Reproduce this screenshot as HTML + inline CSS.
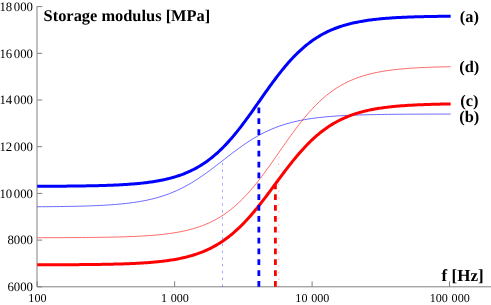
<!DOCTYPE html>
<html><head><meta charset="utf-8"><style>
html,body{margin:0;padding:0;background:#fff;}
svg{display:block;font-family:"Liberation Serif",serif;fill:#000;}
text{text-rendering:geometricPrecision;}
#txt{position:absolute;left:0;top:0;will-change:transform;opacity:0.999;}
</style></head><body>
<svg width="491" height="305" viewBox="0 0 491 305">
<rect width="491" height="305" fill="#fff"/>
<path d="M37 6.2 V286.80 H491" fill="none" stroke="#808080" stroke-width="1"/>
<path d="M37.20 286.80 h5" stroke="#808080" stroke-width="1"/>
<path d="M37.20 240.10 h5" stroke="#808080" stroke-width="1"/>
<path d="M37.20 193.40 h5" stroke="#808080" stroke-width="1"/>
<path d="M37.20 146.70 h5" stroke="#808080" stroke-width="1"/>
<path d="M37.20 100.00 h5" stroke="#808080" stroke-width="1"/>
<path d="M37.20 53.30 h5" stroke="#808080" stroke-width="1"/>
<path d="M37.20 6.60 h5" stroke="#808080" stroke-width="1"/>
<path d="M37.20 286.80 v-5.5" stroke="#808080" stroke-width="1"/>
<path d="M174.65 286.80 v-5.5" stroke="#808080" stroke-width="1"/>
<path d="M312.10 286.80 v-5.5" stroke="#808080" stroke-width="1"/>
<path d="M449.55 286.80 v-5.5" stroke="#808080" stroke-width="1"/>
<path d="M222.50 286.80 V160.48" stroke="#0000ff" stroke-width="0.7" stroke-dasharray="2.6 4.15" opacity="0.48"/>
<path d="M278.80 286.80 V151.95" stroke="#ff0000" stroke-width="0.8" stroke-dasharray="1.3 5.48" opacity="0.45"/>
<path d="M37.20 206.76 L38.58 206.75 L39.96 206.74 L41.33 206.73 L42.71 206.72 L44.09 206.71 L45.47 206.70 L46.85 206.69 L48.23 206.68 L49.60 206.66 L50.98 206.65 L52.36 206.64 L53.74 206.62 L55.12 206.61 L56.49 206.59 L57.87 206.57 L59.25 206.56 L60.63 206.54 L62.01 206.52 L63.39 206.50 L64.76 206.48 L66.14 206.46 L67.52 206.43 L68.90 206.41 L70.28 206.39 L71.65 206.36 L73.03 206.33 L74.41 206.30 L75.79 206.27 L77.17 206.24 L78.54 206.21 L79.92 206.17 L81.30 206.14 L82.68 206.10 L84.06 206.06 L85.44 206.02 L86.81 205.98 L88.19 205.93 L89.57 205.88 L90.95 205.83 L92.33 205.78 L93.70 205.73 L95.08 205.67 L96.46 205.61 L97.84 205.55 L99.22 205.49 L100.60 205.42 L101.97 205.35 L103.35 205.27 L104.73 205.20 L106.11 205.12 L107.49 205.03 L108.86 204.94 L110.24 204.85 L111.62 204.75 L113.00 204.65 L114.38 204.55 L115.76 204.44 L117.13 204.32 L118.51 204.20 L119.89 204.08 L121.27 203.95 L122.65 203.81 L124.02 203.67 L125.40 203.52 L126.78 203.36 L128.16 203.20 L129.54 203.03 L130.92 202.85 L132.29 202.67 L133.67 202.48 L135.05 202.28 L136.43 202.07 L137.81 201.85 L139.18 201.62 L140.56 201.39 L141.94 201.14 L143.32 200.88 L144.70 200.62 L146.08 200.34 L147.45 200.05 L148.83 199.75 L150.21 199.44 L151.59 199.11 L152.97 198.77 L154.34 198.42 L155.72 198.06 L157.10 197.68 L158.48 197.29 L159.86 196.88 L161.23 196.46 L162.61 196.02 L163.99 195.57 L165.37 195.10 L166.75 194.62 L168.13 194.11 L169.50 193.59 L170.88 193.06 L172.26 192.50 L173.64 191.93 L175.02 191.34 L176.39 190.73 L177.77 190.10 L179.15 189.46 L180.53 188.79 L181.91 188.11 L183.29 187.41 L184.66 186.69 L186.04 185.94 L187.42 185.18 L188.80 184.41 L190.18 183.61 L191.55 182.79 L192.93 181.96 L194.31 181.10 L195.69 180.23 L197.07 179.35 L198.45 178.44 L199.82 177.52 L201.20 176.59 L202.58 175.63 L203.96 174.67 L205.34 173.69 L206.71 172.70 L208.09 171.69 L209.47 170.68 L210.85 169.65 L212.23 168.62 L213.61 167.57 L214.98 166.52 L216.36 165.46 L217.74 164.40 L219.12 163.33 L220.50 162.26 L221.87 161.19 L223.25 160.12 L224.63 159.05 L226.01 157.97 L227.39 156.91 L228.76 155.84 L230.14 154.78 L231.52 153.73 L232.90 152.68 L234.28 151.64 L235.66 150.61 L237.03 149.60 L238.41 148.59 L239.79 147.59 L241.17 146.61 L242.55 145.64 L243.92 144.68 L245.30 143.74 L246.68 142.81 L248.06 141.90 L249.44 141.01 L250.82 140.14 L252.19 139.28 L253.57 138.44 L254.95 137.61 L256.33 136.81 L257.71 136.03 L259.08 135.26 L260.46 134.51 L261.84 133.78 L263.22 133.07 L264.60 132.38 L265.98 131.71 L267.35 131.06 L268.73 130.43 L270.11 129.81 L271.49 129.22 L272.87 128.64 L274.24 128.08 L275.62 127.53 L277.00 127.01 L278.38 126.50 L279.76 126.01 L281.14 125.54 L282.51 125.08 L283.89 124.64 L285.27 124.21 L286.65 123.80 L288.03 123.40 L289.40 123.02 L290.78 122.65 L292.16 122.29 L293.54 121.95 L294.92 121.62 L296.30 121.31 L297.67 121.00 L299.05 120.71 L300.43 120.43 L301.81 120.16 L303.19 119.90 L304.56 119.65 L305.94 119.41 L307.32 119.18 L308.70 118.96 L310.08 118.75 L311.45 118.54 L312.83 118.35 L314.21 118.16 L315.59 117.98 L316.97 117.81 L318.35 117.64 L319.72 117.49 L321.10 117.34 L322.48 117.19 L323.86 117.05 L325.24 116.92 L326.61 116.79 L327.99 116.67 L329.37 116.55 L330.75 116.44 L332.13 116.33 L333.51 116.23 L334.88 116.13 L336.26 116.04 L337.64 115.95 L339.02 115.86 L340.40 115.78 L341.77 115.70 L343.15 115.63 L344.53 115.56 L345.91 115.49 L347.29 115.42 L348.67 115.36 L350.04 115.30 L351.42 115.24 L352.80 115.19 L354.18 115.13 L355.56 115.08 L356.93 115.04 L358.31 114.99 L359.69 114.95 L361.07 114.91 L362.45 114.87 L363.83 114.83 L365.20 114.79 L366.58 114.76 L367.96 114.72 L369.34 114.69 L370.72 114.66 L372.09 114.63 L373.47 114.60 L374.85 114.58 L376.23 114.55 L377.61 114.53 L378.99 114.50 L380.36 114.48 L381.74 114.46 L383.12 114.44 L384.50 114.42 L385.88 114.40 L387.25 114.38 L388.63 114.37 L390.01 114.35 L391.39 114.34 L392.77 114.32 L394.14 114.31 L395.52 114.29 L396.90 114.28 L398.28 114.27 L399.66 114.26 L401.04 114.25 L402.41 114.24 L403.79 114.23 L405.17 114.22 L406.55 114.21 L407.93 114.20 L409.30 114.19 L410.68 114.18 L412.06 114.17 L413.44 114.17 L414.82 114.16 L416.20 114.15 L417.57 114.15 L418.95 114.14 L420.33 114.13 L421.71 114.13 L423.09 114.12 L424.46 114.12 L425.84 114.11 L427.22 114.11 L428.60 114.10 L429.98 114.10 L431.36 114.10 L432.73 114.09 L434.11 114.09 L435.49 114.08 L436.87 114.08 L438.25 114.08 L439.62 114.07 L441.00 114.07 L442.38 114.07 L443.76 114.07 L445.14 114.06 L446.52 114.06 L447.89 114.06 L449.27 114.06 L450.65 114.05" fill="none" stroke="#0000ff" stroke-width="0.6" stroke-linejoin="round"/>
<path d="M37.20 237.71 L38.58 237.71 L39.96 237.71 L41.33 237.71 L42.71 237.70 L44.09 237.70 L45.47 237.70 L46.85 237.69 L48.23 237.69 L49.60 237.69 L50.98 237.68 L52.36 237.68 L53.74 237.68 L55.12 237.67 L56.49 237.67 L57.87 237.66 L59.25 237.66 L60.63 237.65 L62.01 237.65 L63.39 237.64 L64.76 237.64 L66.14 237.63 L67.52 237.62 L68.90 237.62 L70.28 237.61 L71.65 237.60 L73.03 237.59 L74.41 237.59 L75.79 237.58 L77.17 237.57 L78.54 237.56 L79.92 237.55 L81.30 237.54 L82.68 237.53 L84.06 237.52 L85.44 237.51 L86.81 237.49 L88.19 237.48 L89.57 237.47 L90.95 237.45 L92.33 237.44 L93.70 237.42 L95.08 237.41 L96.46 237.39 L97.84 237.37 L99.22 237.35 L100.60 237.33 L101.97 237.31 L103.35 237.29 L104.73 237.27 L106.11 237.25 L107.49 237.22 L108.86 237.20 L110.24 237.17 L111.62 237.14 L113.00 237.11 L114.38 237.08 L115.76 237.05 L117.13 237.02 L118.51 236.98 L119.89 236.95 L121.27 236.91 L122.65 236.87 L124.02 236.82 L125.40 236.78 L126.78 236.73 L128.16 236.69 L129.54 236.64 L130.92 236.58 L132.29 236.53 L133.67 236.47 L135.05 236.41 L136.43 236.34 L137.81 236.28 L139.18 236.21 L140.56 236.14 L141.94 236.06 L143.32 235.98 L144.70 235.90 L146.08 235.81 L147.45 235.72 L148.83 235.62 L150.21 235.52 L151.59 235.42 L152.97 235.31 L154.34 235.19 L155.72 235.07 L157.10 234.95 L158.48 234.82 L159.86 234.68 L161.23 234.54 L162.61 234.39 L163.99 234.23 L165.37 234.07 L166.75 233.90 L168.13 233.72 L169.50 233.53 L170.88 233.34 L172.26 233.14 L173.64 232.92 L175.02 232.70 L176.39 232.47 L177.77 232.23 L179.15 231.97 L180.53 231.71 L181.91 231.43 L183.29 231.15 L184.66 230.85 L186.04 230.53 L187.42 230.21 L188.80 229.87 L190.18 229.51 L191.55 229.14 L192.93 228.75 L194.31 228.35 L195.69 227.93 L197.07 227.49 L198.45 227.04 L199.82 226.57 L201.20 226.07 L202.58 225.56 L203.96 225.02 L205.34 224.47 L206.71 223.89 L208.09 223.29 L209.47 222.67 L210.85 222.02 L212.23 221.35 L213.61 220.65 L214.98 219.92 L216.36 219.17 L217.74 218.39 L219.12 217.58 L220.50 216.75 L221.87 215.88 L223.25 214.98 L224.63 214.06 L226.01 213.10 L227.39 212.11 L228.76 211.08 L230.14 210.02 L231.52 208.93 L232.90 207.81 L234.28 206.65 L235.66 205.46 L237.03 204.23 L238.41 202.96 L239.79 201.67 L241.17 200.33 L242.55 198.96 L243.92 197.56 L245.30 196.12 L246.68 194.65 L248.06 193.14 L249.44 191.60 L250.82 190.02 L252.19 188.41 L253.57 186.77 L254.95 185.10 L256.33 183.40 L257.71 181.67 L259.08 179.92 L260.46 178.13 L261.84 176.32 L263.22 174.49 L264.60 172.64 L265.98 170.76 L267.35 168.86 L268.73 166.95 L270.11 165.02 L271.49 163.08 L272.87 161.13 L274.24 159.17 L275.62 157.20 L277.00 155.22 L278.38 153.24 L279.76 151.26 L281.14 149.28 L282.51 147.30 L283.89 145.33 L285.27 143.36 L286.65 141.41 L288.03 139.46 L289.40 137.53 L290.78 135.61 L292.16 133.71 L293.54 131.83 L294.92 129.97 L296.30 128.13 L297.67 126.31 L299.05 124.52 L300.43 122.75 L301.81 121.02 L303.19 119.31 L304.56 117.63 L305.94 115.98 L307.32 114.36 L308.70 112.78 L310.08 111.23 L311.45 109.71 L312.83 108.22 L314.21 106.77 L315.59 105.36 L316.97 103.98 L318.35 102.64 L319.72 101.33 L321.10 100.05 L322.48 98.81 L323.86 97.61 L325.24 96.44 L326.61 95.31 L327.99 94.21 L329.37 93.14 L330.75 92.10 L332.13 91.10 L333.51 90.13 L334.88 89.20 L336.26 88.29 L337.64 87.42 L339.02 86.57 L340.40 85.75 L341.77 84.97 L343.15 84.21 L344.53 83.47 L345.91 82.77 L347.29 82.09 L348.67 81.43 L350.04 80.80 L351.42 80.19 L352.80 79.61 L354.18 79.05 L355.56 78.51 L356.93 77.99 L358.31 77.49 L359.69 77.01 L361.07 76.55 L362.45 76.10 L363.83 75.68 L365.20 75.27 L366.58 74.88 L367.96 74.51 L369.34 74.15 L370.72 73.80 L372.09 73.47 L373.47 73.15 L374.85 72.85 L376.23 72.56 L377.61 72.28 L378.99 72.01 L380.36 71.76 L381.74 71.51 L383.12 71.28 L384.50 71.05 L385.88 70.83 L387.25 70.63 L388.63 70.43 L390.01 70.24 L391.39 70.06 L392.77 69.89 L394.14 69.72 L395.52 69.56 L396.90 69.41 L398.28 69.27 L399.66 69.13 L401.04 69.00 L402.41 68.87 L403.79 68.75 L405.17 68.63 L406.55 68.52 L407.93 68.42 L409.30 68.32 L410.68 68.22 L412.06 68.13 L413.44 68.04 L414.82 67.95 L416.20 67.87 L417.57 67.79 L418.95 67.72 L420.33 67.65 L421.71 67.58 L423.09 67.52 L424.46 67.46 L425.84 67.40 L427.22 67.34 L428.60 67.29 L429.98 67.24 L431.36 67.19 L432.73 67.14 L434.11 67.10 L435.49 67.05 L436.87 67.01 L438.25 66.97 L439.62 66.94 L441.00 66.90 L442.38 66.87 L443.76 66.83 L445.14 66.80 L446.52 66.77 L447.89 66.74 L449.27 66.72 L450.65 66.69" fill="none" stroke="#ff0000" stroke-width="0.6" stroke-linejoin="round"/>
<path d="M37.20 264.80 L38.58 264.79 L39.96 264.79 L41.33 264.79 L42.71 264.78 L44.09 264.78 L45.47 264.78 L46.85 264.77 L48.23 264.77 L49.60 264.77 L50.98 264.76 L52.36 264.76 L53.74 264.75 L55.12 264.75 L56.49 264.75 L57.87 264.74 L59.25 264.73 L60.63 264.73 L62.01 264.72 L63.39 264.72 L64.76 264.71 L66.14 264.70 L67.52 264.70 L68.90 264.69 L70.28 264.68 L71.65 264.68 L73.03 264.67 L74.41 264.66 L75.79 264.65 L77.17 264.64 L78.54 264.63 L79.92 264.62 L81.30 264.61 L82.68 264.60 L84.06 264.58 L85.44 264.57 L86.81 264.56 L88.19 264.54 L89.57 264.53 L90.95 264.52 L92.33 264.50 L93.70 264.48 L95.08 264.47 L96.46 264.45 L97.84 264.43 L99.22 264.41 L100.60 264.39 L101.97 264.37 L103.35 264.34 L104.73 264.32 L106.11 264.29 L107.49 264.27 L108.86 264.24 L110.24 264.21 L111.62 264.18 L113.00 264.15 L114.38 264.12 L115.76 264.08 L117.13 264.05 L118.51 264.01 L119.89 263.97 L121.27 263.93 L122.65 263.88 L124.02 263.84 L125.40 263.79 L126.78 263.74 L128.16 263.69 L129.54 263.64 L130.92 263.58 L132.29 263.52 L133.67 263.46 L135.05 263.39 L136.43 263.32 L137.81 263.25 L139.18 263.18 L140.56 263.10 L141.94 263.02 L143.32 262.93 L144.70 262.84 L146.08 262.75 L147.45 262.65 L148.83 262.55 L150.21 262.44 L151.59 262.33 L152.97 262.21 L154.34 262.09 L155.72 261.96 L157.10 261.82 L158.48 261.68 L159.86 261.54 L161.23 261.38 L162.61 261.22 L163.99 261.06 L165.37 260.88 L166.75 260.70 L168.13 260.51 L169.50 260.31 L170.88 260.10 L172.26 259.88 L173.64 259.66 L175.02 259.42 L176.39 259.17 L177.77 258.91 L179.15 258.64 L180.53 258.36 L181.91 258.07 L183.29 257.76 L184.66 257.44 L186.04 257.11 L187.42 256.76 L188.80 256.40 L190.18 256.02 L191.55 255.63 L192.93 255.22 L194.31 254.79 L195.69 254.34 L197.07 253.88 L198.45 253.40 L199.82 252.90 L201.20 252.38 L202.58 251.84 L203.96 251.27 L205.34 250.69 L206.71 250.08 L208.09 249.45 L209.47 248.79 L210.85 248.11 L212.23 247.41 L213.61 246.67 L214.98 245.92 L216.36 245.13 L217.74 244.32 L219.12 243.48 L220.50 242.61 L221.87 241.70 L223.25 240.77 L224.63 239.81 L226.01 238.82 L227.39 237.80 L228.76 236.74 L230.14 235.65 L231.52 234.53 L232.90 233.38 L234.28 232.19 L235.66 230.97 L237.03 229.72 L238.41 228.44 L239.79 227.12 L241.17 225.77 L242.55 224.38 L243.92 222.97 L245.30 221.52 L246.68 220.04 L248.06 218.53 L249.44 216.99 L250.82 215.42 L252.19 213.82 L253.57 212.20 L254.95 210.55 L256.33 208.87 L257.71 207.17 L259.08 205.45 L260.46 203.71 L261.84 201.94 L263.22 200.16 L264.60 198.37 L265.98 196.55 L267.35 194.73 L268.73 192.89 L270.11 191.05 L271.49 189.20 L272.87 187.34 L274.24 185.48 L275.62 183.61 L277.00 181.75 L278.38 179.89 L279.76 178.04 L281.14 176.19 L282.51 174.35 L283.89 172.52 L285.27 170.70 L286.65 168.90 L288.03 167.11 L289.40 165.34 L290.78 163.59 L292.16 161.86 L293.54 160.15 L294.92 158.47 L296.30 156.81 L297.67 155.17 L299.05 153.56 L300.43 151.98 L301.81 150.43 L303.19 148.91 L304.56 147.42 L305.94 145.96 L307.32 144.53 L308.70 143.13 L310.08 141.77 L311.45 140.44 L312.83 139.14 L314.21 137.87 L315.59 136.64 L316.97 135.44 L318.35 134.27 L319.72 133.14 L321.10 132.04 L322.48 130.97 L323.86 129.94 L325.24 128.93 L326.61 127.96 L327.99 127.01 L329.37 126.10 L330.75 125.22 L332.13 124.37 L333.51 123.54 L334.88 122.75 L336.26 121.98 L337.64 121.23 L339.02 120.52 L340.40 119.83 L341.77 119.16 L343.15 118.52 L344.53 117.91 L345.91 117.31 L347.29 116.74 L348.67 116.19 L350.04 115.66 L351.42 115.15 L352.80 114.66 L354.18 114.19 L355.56 113.74 L356.93 113.31 L358.31 112.89 L359.69 112.49 L361.07 112.10 L362.45 111.74 L363.83 111.38 L365.20 111.04 L366.58 110.72 L367.96 110.41 L369.34 110.11 L370.72 109.82 L372.09 109.55 L373.47 109.28 L374.85 109.03 L376.23 108.79 L377.61 108.56 L378.99 108.34 L380.36 108.13 L381.74 107.92 L383.12 107.73 L384.50 107.54 L385.88 107.37 L387.25 107.20 L388.63 107.03 L390.01 106.88 L391.39 106.73 L392.77 106.58 L394.14 106.45 L395.52 106.32 L396.90 106.19 L398.28 106.07 L399.66 105.96 L401.04 105.85 L402.41 105.74 L403.79 105.65 L405.17 105.55 L406.55 105.46 L407.93 105.37 L409.30 105.29 L410.68 105.21 L412.06 105.13 L413.44 105.06 L414.82 104.99 L416.20 104.92 L417.57 104.86 L418.95 104.80 L420.33 104.74 L421.71 104.69 L423.09 104.63 L424.46 104.58 L425.84 104.53 L427.22 104.49 L428.60 104.44 L429.98 104.40 L431.36 104.36 L432.73 104.32 L434.11 104.28 L435.49 104.25 L436.87 104.22 L438.25 104.18 L439.62 104.15 L441.00 104.12 L442.38 104.10 L443.76 104.07 L445.14 104.04 L446.52 104.02 L447.89 104.00 L449.27 103.97 L450.65 103.95" fill="none" stroke="#ff0000" stroke-width="3.0" stroke-linejoin="round"/>
<path d="M37.20 186.30 L38.58 186.29 L39.96 186.29 L41.33 186.28 L42.71 186.27 L44.09 186.27 L45.47 186.26 L46.85 186.26 L48.23 186.25 L49.60 186.24 L50.98 186.24 L52.36 186.23 L53.74 186.22 L55.12 186.21 L56.49 186.20 L57.87 186.20 L59.25 186.19 L60.63 186.18 L62.01 186.17 L63.39 186.16 L64.76 186.14 L66.14 186.13 L67.52 186.12 L68.90 186.11 L70.28 186.09 L71.65 186.08 L73.03 186.06 L74.41 186.05 L75.79 186.03 L77.17 186.01 L78.54 186.00 L79.92 185.98 L81.30 185.96 L82.68 185.94 L84.06 185.92 L85.44 185.89 L86.81 185.87 L88.19 185.85 L89.57 185.82 L90.95 185.79 L92.33 185.76 L93.70 185.73 L95.08 185.70 L96.46 185.67 L97.84 185.64 L99.22 185.60 L100.60 185.56 L101.97 185.52 L103.35 185.48 L104.73 185.44 L106.11 185.40 L107.49 185.35 L108.86 185.30 L110.24 185.25 L111.62 185.20 L113.00 185.14 L114.38 185.08 L115.76 185.02 L117.13 184.95 L118.51 184.89 L119.89 184.82 L121.27 184.74 L122.65 184.66 L124.02 184.58 L125.40 184.50 L126.78 184.41 L128.16 184.32 L129.54 184.22 L130.92 184.12 L132.29 184.01 L133.67 183.90 L135.05 183.79 L136.43 183.67 L137.81 183.54 L139.18 183.41 L140.56 183.27 L141.94 183.12 L143.32 182.97 L144.70 182.81 L146.08 182.65 L147.45 182.47 L148.83 182.29 L150.21 182.10 L151.59 181.91 L152.97 181.70 L154.34 181.48 L155.72 181.26 L157.10 181.02 L158.48 180.78 L159.86 180.52 L161.23 180.26 L162.61 179.98 L163.99 179.68 L165.37 179.38 L166.75 179.06 L168.13 178.73 L169.50 178.39 L170.88 178.03 L172.26 177.65 L173.64 177.26 L175.02 176.85 L176.39 176.43 L177.77 175.99 L179.15 175.53 L180.53 175.05 L181.91 174.55 L183.29 174.03 L184.66 173.49 L186.04 172.93 L187.42 172.34 L188.80 171.74 L190.18 171.11 L191.55 170.45 L192.93 169.77 L194.31 169.06 L195.69 168.33 L197.07 167.57 L198.45 166.79 L199.82 165.97 L201.20 165.13 L202.58 164.25 L203.96 163.35 L205.34 162.41 L206.71 161.44 L208.09 160.44 L209.47 159.41 L210.85 158.35 L212.23 157.25 L213.61 156.11 L214.98 154.95 L216.36 153.75 L217.74 152.51 L219.12 151.24 L220.50 149.93 L221.87 148.59 L223.25 147.22 L224.63 145.80 L226.01 144.36 L227.39 142.88 L228.76 141.37 L230.14 139.82 L231.52 138.24 L232.90 136.63 L234.28 134.99 L235.66 133.31 L237.03 131.61 L238.41 129.88 L239.79 128.12 L241.17 126.34 L242.55 124.53 L243.92 122.70 L245.30 120.85 L246.68 118.98 L248.06 117.09 L249.44 115.18 L250.82 113.26 L252.19 111.32 L253.57 109.38 L254.95 107.43 L256.33 105.47 L257.71 103.50 L259.08 101.53 L260.46 99.57 L261.84 97.60 L263.22 95.64 L264.60 93.68 L265.98 91.73 L267.35 89.80 L268.73 87.87 L270.11 85.96 L271.49 84.06 L272.87 82.18 L274.24 80.32 L275.62 78.48 L277.00 76.66 L278.38 74.87 L279.76 73.10 L281.14 71.36 L282.51 69.65 L283.89 67.97 L285.27 66.31 L286.65 64.69 L288.03 63.10 L289.40 61.54 L290.78 60.01 L292.16 58.52 L293.54 57.06 L294.92 55.64 L296.30 54.25 L297.67 52.90 L299.05 51.58 L300.43 50.30 L301.81 49.05 L303.19 47.83 L304.56 46.65 L305.94 45.51 L307.32 44.39 L308.70 43.32 L310.08 42.27 L311.45 41.26 L312.83 40.28 L314.21 39.33 L315.59 38.42 L316.97 37.53 L318.35 36.68 L319.72 35.85 L321.10 35.05 L322.48 34.28 L323.86 33.54 L325.24 32.82 L326.61 32.13 L327.99 31.47 L329.37 30.83 L330.75 30.22 L332.13 29.62 L333.51 29.05 L334.88 28.50 L336.26 27.98 L337.64 27.47 L339.02 26.98 L340.40 26.52 L341.77 26.07 L343.15 25.64 L344.53 25.22 L345.91 24.83 L347.29 24.45 L348.67 24.08 L350.04 23.73 L351.42 23.39 L352.80 23.07 L354.18 22.76 L355.56 22.47 L356.93 22.18 L358.31 21.91 L359.69 21.65 L361.07 21.40 L362.45 21.16 L363.83 20.93 L365.20 20.71 L366.58 20.50 L367.96 20.30 L369.34 20.11 L370.72 19.93 L372.09 19.75 L373.47 19.58 L374.85 19.42 L376.23 19.27 L377.61 19.12 L378.99 18.98 L380.36 18.85 L381.74 18.72 L383.12 18.59 L384.50 18.48 L385.88 18.36 L387.25 18.25 L388.63 18.15 L390.01 18.05 L391.39 17.96 L392.77 17.87 L394.14 17.78 L395.52 17.70 L396.90 17.62 L398.28 17.55 L399.66 17.47 L401.04 17.41 L402.41 17.34 L403.79 17.28 L405.17 17.22 L406.55 17.16 L407.93 17.11 L409.30 17.05 L410.68 17.00 L412.06 16.96 L413.44 16.91 L414.82 16.87 L416.20 16.83 L417.57 16.79 L418.95 16.75 L420.33 16.71 L421.71 16.68 L423.09 16.64 L424.46 16.61 L425.84 16.58 L427.22 16.55 L428.60 16.53 L429.98 16.50 L431.36 16.47 L432.73 16.45 L434.11 16.43 L435.49 16.40 L436.87 16.38 L438.25 16.36 L439.62 16.34 L441.00 16.33 L442.38 16.31 L443.76 16.29 L445.14 16.28 L446.52 16.26 L447.89 16.25 L449.27 16.23 L450.65 16.22" fill="none" stroke="#0000ff" stroke-width="3.0" stroke-linejoin="round"/>
<path d="M258.85 286.80 V101.17" stroke="#0000ff" stroke-width="2.8" stroke-dasharray="5.75 5.1"/>
<path d="M275.40 286.80 V184.18" stroke="#ff0000" stroke-width="2.8" stroke-dasharray="5.75 5.1"/>
</svg>
<svg id="txt" width="491" height="305" viewBox="0 0 491 305">
<text x="33.0" y="291.10" text-anchor="end" font-size="12.8" font-weight="normal" >6000</text>
<text x="33.0" y="244.40" text-anchor="end" font-size="12.8" font-weight="normal" >8000</text>
<text x="33.0" y="197.70" text-anchor="end" font-size="12.8" font-weight="normal" >10<tspan dx="1.6">000</tspan></text>
<text x="33.0" y="151.00" text-anchor="end" font-size="12.8" font-weight="normal" >12<tspan dx="1.6">000</tspan></text>
<text x="33.0" y="104.30" text-anchor="end" font-size="12.8" font-weight="normal" >14<tspan dx="1.6">000</tspan></text>
<text x="33.0" y="57.60" text-anchor="end" font-size="12.8" font-weight="normal" >16<tspan dx="1.6">000</tspan></text>
<text x="33.0" y="10.90" text-anchor="end" font-size="12.8" font-weight="normal" >18<tspan dx="1.6">000</tspan></text>
<text x="37.400000000000006" y="301.80" text-anchor="middle" font-size="12.1" font-weight="normal" >100</text>
<text x="174.84999999999997" y="301.80" text-anchor="middle" font-size="12.1" font-weight="normal" >1<tspan dx="3.7">000</tspan></text>
<text x="312.29999999999995" y="301.80" text-anchor="middle" font-size="12.1" font-weight="normal" >10<tspan dx="3.7">000</tspan></text>
<text x="449.74999999999994" y="301.80" text-anchor="middle" font-size="12.1" font-weight="normal" >100<tspan dx="3.7">000</tspan></text>
<text x="43.6" y="21.20" text-anchor="start" font-size="16.4" font-weight="bold" >Storage modulus [MPa]</text>
<text x="441.6" y="280.60" text-anchor="start" font-size="17.0" font-weight="bold" >f [Hz]</text>
<text x="469.3" y="21.70" text-anchor="middle" font-size="16.4" font-weight="bold" >(a)</text>
<text x="469.3" y="71.70" text-anchor="middle" font-size="16.4" font-weight="bold" >(d)</text>
<text x="469.3" y="106.10" text-anchor="middle" font-size="16.4" font-weight="bold" >(c)</text>
<text x="469.3" y="121.80" text-anchor="middle" font-size="16.4" font-weight="bold" >(b)</text>
</svg></body></html>
